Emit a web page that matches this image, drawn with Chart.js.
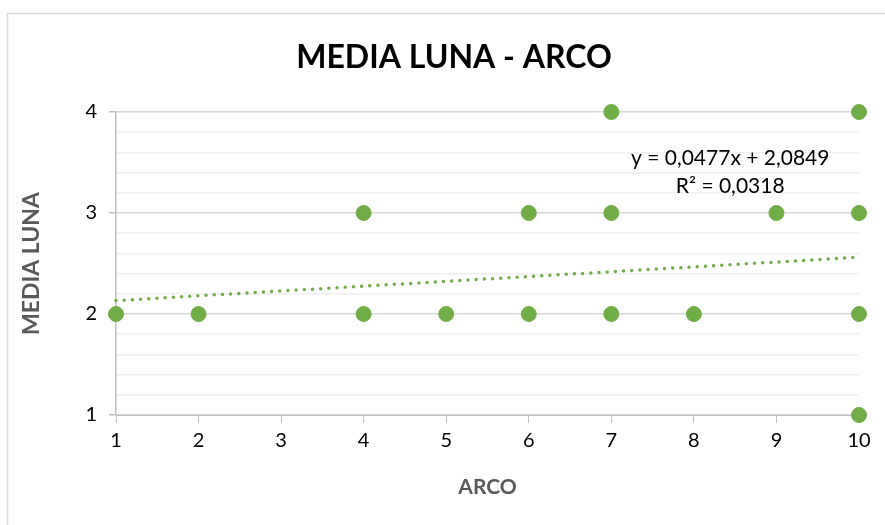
<!DOCTYPE html>
<html>
<head>
<meta charset="utf-8">
<script src="https://cdn.jsdelivr.net/npm/chart.js@4/dist/chart.umd.min.js"></script>
<style>
  html, body { margin: 0; padding: 0; background: #ffffff; overflow: hidden; }
  #c { display: block; }
</style>
</head>
<body>
<canvas id="c" width="885" height="525"></canvas>
<script>
// ARCO vs MEDIA LUNA observations
const arco      = [1, 2, 4, 4, 5, 6, 6, 7, 7, 7, 8, 9, 10, 10, 10, 10];
const mediaLuna = [2, 2, 3, 2, 2, 3, 2, 4, 3, 2, 2, 3, 4, 3, 2, 1];

// Linear trendline as reported
const slope = 0.0477;
const intercept = 2.0849;
const rSquared = 0.0318;

const xTickValues = [1, 2, 3, 4, 5, 6, 7, 8, 9, 10];
const yTickValues = [1, 2, 3, 4];
const yMinorSteps = 5; // minor gridlines between labelled values

const chartTitle = 'MEDIA LUNA - ARCO';

const GREEN = '#70ad47';
const FONT = 'Lato, "Open Sans", "Liberation Sans", sans-serif';

const points = arco.map((x, i) => ({ x: x, y: mediaLuna[i] }));
const xMin = xTickValues[0], xMax = xTickValues[xTickValues.length - 1];
const yMin = yTickValues[0], yMax = yTickValues[yTickValues.length - 1];
const trend = [
  { x: xMin, y: intercept + slope * xMin },
  { x: xMax, y: intercept + slope * xMax }
];

const fmt = (v) => v.toFixed(4).replace('.', ',');
const isMajor = (v) => Math.abs(v - Math.round(v)) < 1e-6 && yTickValues.includes(Math.round(v));

// Frame lines, chart heading and trendline equation text
const decorations = {
  id: 'decorations',
  beforeDraw(chart) {
    const ctx = chart.ctx;
    ctx.save();
    ctx.strokeStyle = '#d9d9d9';
    ctx.lineWidth = 1.5;
    ctx.beginPath();
    ctx.moveTo(7.5, chart.height);
    ctx.lineTo(7.5, 13.5);
    ctx.lineTo(chart.width, 13.5);
    ctx.stroke();

    ctx.fillStyle = '#000000';
    ctx.font = 'bold 32px ' + FONT;
    ctx.textAlign = 'center';
    ctx.textBaseline = 'middle';
    ctx.fillText(chartTitle, 454, 58);
    ctx.restore();
  },
  afterDatasetsDraw(chart) {
    const ctx = chart.ctx;
    const xs = chart.scales.x, ys = chart.scales.y;
    const cx = xs.getPixelForValue(8.44);
    const cy = ys.getPixelForValue(3.54);
    ctx.save();
    ctx.fillStyle = '#000000';
    ctx.font = '21px ' + FONT;
    ctx.textAlign = 'center';
    ctx.textBaseline = 'middle';
    ctx.fillText('y = ' + fmt(slope) + 'x + ' + fmt(intercept), cx, cy);
    ctx.fillText('R² = ' + fmt(rSquared), cx, cy + 28);
    ctx.restore();
  }
};

new Chart(document.getElementById('c'), {
  type: 'scatter',
  data: {
    datasets: [
      {
        label: 'MEDIA LUNA',
        data: points,
        backgroundColor: GREEN,
        borderColor: GREEN,
        pointRadius: 7.5,
        pointHoverRadius: 7.5,
        clip: false,
        order: 1
      },
      {
        type: 'line',
        label: 'Lineal',
        data: trend,
        borderColor: GREEN,
        borderWidth: 3.5,
        borderDash: [0, 8.2],
        borderCapStyle: 'round',
        pointRadius: 0,
        fill: false,
        clip: false,
        order: 2
      }
    ]
  },
  plugins: [decorations],
  options: {
    responsive: false,
    animation: false,
    events: [],
    devicePixelRatio: 1,
    layout: { padding: { left: 8, top: 112, right: 26, bottom: 0 } },
    plugins: {
      legend: { display: false },
      tooltip: { enabled: false },
      title: { display: false }
    },
    scales: {
      x: {
        type: 'linear',
        min: xMin,
        max: xMax,
        afterBuildTicks(scale) {
          scale.ticks = xTickValues.map(v => ({ value: v }));
        },
        afterFit(scale) { scale.height = 110; },
        ticks: {
          autoSkip: false,
          color: '#000000',
          font: { family: FONT, size: 20 },
          padding: 6,
          maxRotation: 0
        },
        grid: {
          drawOnChartArea: false,
          drawTicks: true,
          tickLength: 8,
          tickColor: '#bfbfbf'
        },
        border: { display: true, color: '#bfbfbf', width: 1 },
        title: {
          display: true,
          text: 'ARCO',
          color: '#595959',
          font: { family: FONT, size: 21, weight: 'bold', lineHeight: 1.2 },
          padding: { top: 0, bottom: 25 }
        }
      },
      y: {
        type: 'linear',
        min: yMin,
        max: yMax,
        afterBuildTicks(scale) {
          const ticks = [];
          const n = (yMax - yMin) * yMinorSteps;
          for (let i = 0; i <= n; i++) {
            ticks.push({ value: Math.round((yMin + i / yMinorSteps) * 1000) / 1000 });
          }
          scale.ticks = ticks;
        },
        afterFit(scale) { scale.width = 108; },
        ticks: {
          autoSkip: false,
          color: '#000000',
          font: { family: FONT, size: 20 },
          padding: 12,
          callback(v) { return isMajor(v) ? String(Math.round(v)) : ''; }
        },
        grid: {
          drawTicks: true,
          tickLength: 7,
          color(c) { return isMajor(c.tick.value) ? '#d9d9d9' : '#f0f0f0'; },
          tickColor(c) { return isMajor(c.tick.value) ? '#bfbfbf' : 'rgba(0,0,0,0)'; },
          lineWidth: 1.5
        },
        border: { display: true, color: '#bfbfbf', width: 1.5 },
        title: {
          display: true,
          text: 'MEDIA LUNA',
          color: '#595959',
          font: { family: FONT, size: 23, weight: 'bold', lineHeight: 1.2 },
          padding: { top: 10, bottom: 0 }
        }
      }
    }
  }
});
</script>
</body>
</html>
